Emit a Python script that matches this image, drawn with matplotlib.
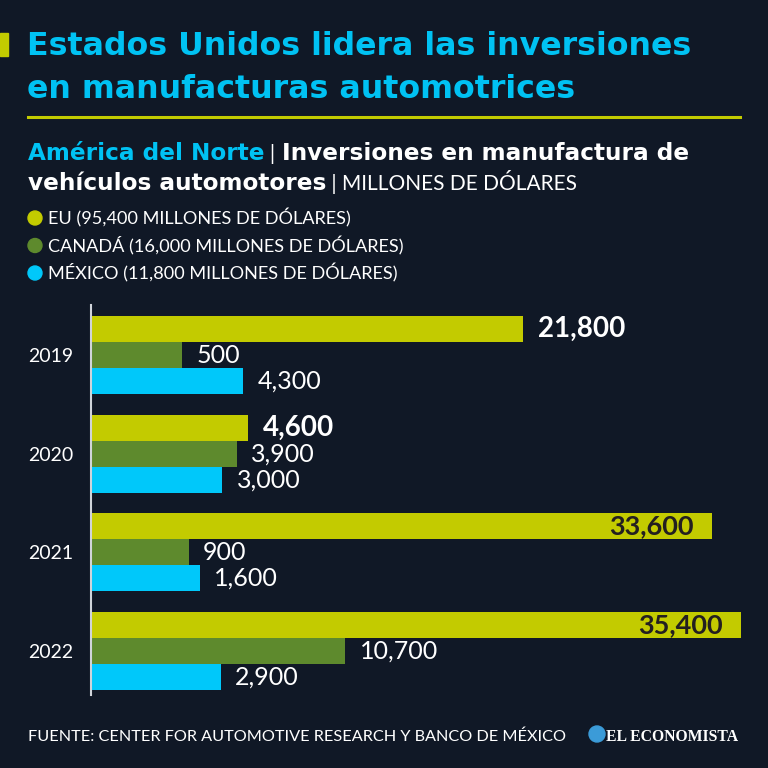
import matplotlib
matplotlib.use("Agg")
import matplotlib.pyplot as plt
from matplotlib.patches import Rectangle, Circle
from matplotlib.lines import Line2D

# ---------------- data ----------------
years = ["2019", "2020", "2021", "2022"]
eu = [21800, 4600, 33600, 35400]
canada = [500, 3900, 900, 10700]
mexico = [4300, 3000, 1600, 2900]
legend_labels = [
    "EU (95,400 MILLONES DE DÓLARES)",
    "CANADÁ (16,000 MILLONES DE DÓLARES)",
    "MÉXICO (11,800 MILLONES DE DÓLARES)",
]
title_lines = ["Estados Unidos lidera las inversiones",
               "en manufacturas automotrices"]
source = "FUENTE: CENTER FOR AUTOMOTIVE RESEARCH Y BANCO DE MÉXICO"

# ---------------- style ----------------
BG = "#101826"
YEL = "#c3cb00"
GRN = "#5e8a2d"
CYA = "#00c8fa"
TCYA = "#00c2f3"
WHITE = "#ffffff"
DARK = "#231f20"
FONT = ["Lato", "DejaVu Sans"]
HEAVY = ["DejaVu Sans"]
plt.rcParams["font.family"] = FONT

W = H = 768
fig = plt.figure(figsize=(7.68, 7.68), dpi=100, facecolor=BG)


def P(x, y):
    return (x / W, 1 - y / H)


renderer = fig.canvas.get_renderer()


def seq_text(x, y, pieces, **common):
    """Draw consecutive text pieces on one line, starting at pixel x."""
    cx = x
    for txt, kw in pieces:
        opts = dict(common)
        opts.update(kw)
        t = fig.text(*P(cx, y), txt, ha="left", va="baseline", **opts)
        bb = t.get_window_extent(renderer=renderer)
        cx += bb.width


# ---------------- header ----------------
fig.patches.append(Rectangle(P(0, 56), 8 / W, 23 / H, transform=fig.transFigure,
                             color=YEL, zorder=3))
fig.text(*P(27, 55), title_lines[0], color=TCYA, fontsize=22.8, fontweight="bold",
         family=HEAVY, ha="left", va="baseline")
fig.text(*P(27, 98), title_lines[1], color=TCYA, fontsize=22.8, fontweight="bold",
         family=HEAVY, ha="left", va="baseline")
fig.lines.append(Line2D([28 / W, 740 / W], [1 - 117 / H, 1 - 117 / H],
                        transform=fig.transFigure, color=YEL, lw=2.2))

seq_text(28, 160, [("América del Norte", dict(color=TCYA, fontweight="bold", family=HEAVY)),
                   (" | ", dict(color=WHITE, fontweight="normal", family=FONT, fontsize=16)),
                   ("Inversiones en manufactura de", dict(color=WHITE, fontweight="bold",
                                                          family=HEAVY))],
         fontsize=16.7)
seq_text(28, 190, [("vehículos automotores", dict(color=WHITE, fontweight="bold", family=HEAVY)),
                   (" | MILLONES DE DÓLARES", dict(color=WHITE, fontweight="normal",
                                                   family=FONT, fontsize=15))],
         fontsize=16.7)

for i, (lab, col) in enumerate(zip(legend_labels, [YEL, GRN, CYA])):
    yy = 218 + i * 27.5
    fig.patches.append(Circle(P(35, yy), 7 / W, transform=fig.transFigure,
                              color=col, zorder=3))
    fig.text(*P(48, yy + 6.5), lab, color=WHITE, fontsize=13.1, fontweight="normal",
             ha="left", va="baseline")

# ---------------- chart ----------------
ax_left, ax_right, ax_top, ax_bot = 91, 768, 305, 695
ax = fig.add_axes([ax_left / W, 1 - ax_bot / H, (ax_right - ax_left) / W,
                   (ax_bot - ax_top) / H])
ax.set_facecolor(BG)
XMIN, XMAX = -5200, 37100
ax.set_xlim(XMIN, XMAX)
ax.set_ylim(3.444, -0.507)

bh = 0.2634
groups = list(range(len(years)))
series = [(eu, YEL, -bh), (canada, GRN, 0.0), (mexico, CYA, bh)]
for vals, col, off in series:
    ys = [g + off for g in groups]
    ax.barh(ys, [v - XMIN for v in vals], left=XMIN, height=bh, color=col,
            edgecolor="none")

for vals, col, off in series:
    bold = vals is eu
    for g, v in zip(groups, vals):
        label = f"{v:,}"
        y = g + off
        if bold and v > 30000:
            ax.annotate(label, (v, y), xytext=(-13, 0), textcoords="offset points",
                        ha="right", va="center", color=DARK, fontsize=19.5,
                        fontweight="bold")
        else:
            ax.annotate(label, (v, y), xytext=(10.5, 0), textcoords="offset points",
                        ha="left", va="center", color=WHITE,
                        fontsize=20 if bold else 18,
                        fontweight="bold" if bold else "normal")

ax.set_yticks(groups)
ax.set_yticklabels(years, color=WHITE, fontsize=14, fontweight="normal")
ax.tick_params(axis="y", length=0, pad=13)
ax.set_xticks([])
for s in ["top", "right", "bottom"]:
    ax.spines[s].set_visible(False)
ax.spines["left"].set_color("#d0d4da")
ax.spines["left"].set_linewidth(1.5)

# ---------------- footer ----------------
fig.text(*P(28, 741), source, color=WHITE, fontsize=11.7, fontweight="normal",
         ha="left", va="baseline")
fig.patches.append(Circle(P(597, 734), 8 / W, transform=fig.transFigure,
                          color="#3b9bd8", zorder=3))
fig.text(*P(606, 741), "EL ECONOMISTA", color=WHITE, fontsize=11.3,
         fontweight="bold", family=["Liberation Serif", "DejaVu Serif"],
         ha="left", va="baseline")

fig.savefig("out.png", dpi=100, facecolor=BG)
